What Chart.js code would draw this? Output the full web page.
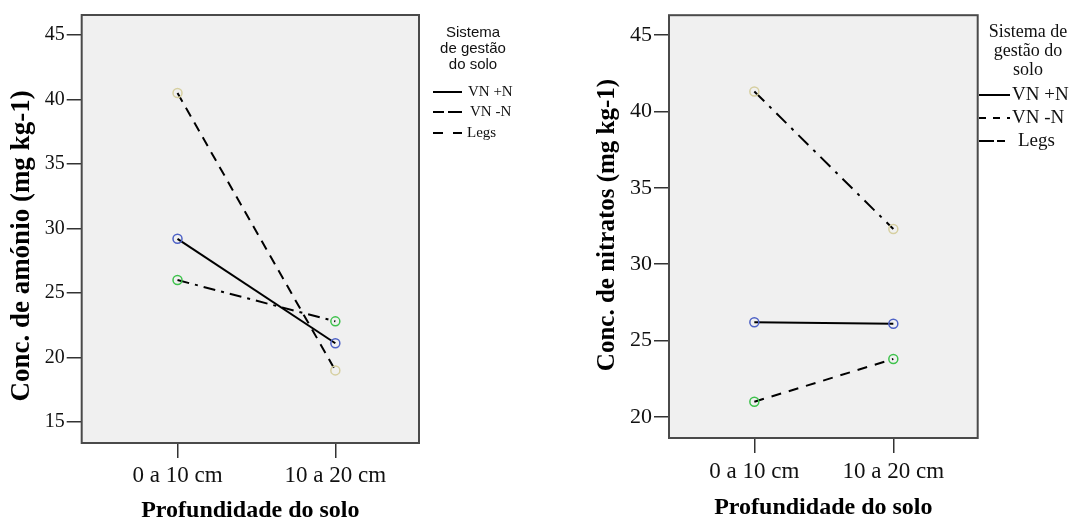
<!DOCTYPE html>
<html><head><meta charset="utf-8">
<script src="https://cdn.jsdelivr.net/npm/chart.js@4"></script>
<style>
html,body{margin:0;padding:0;background:#fff;overflow:hidden;}
#c1{position:absolute;left:0;top:0;}
#c2{position:absolute;left:540px;top:0;}
</style></head><body>
<canvas id="c1" width="540" height="523"></canvas>
<canvas id="c2" width="537" height="523"></canvas>
<script>
// ---- data ----
const categories = ['0 a 10 cm', '10 a 20 cm'];
const seriesNames = ['VN +N', 'VN -N', 'Legs'];
const amonioVNmaisN = [29.2, 21.1];
const amonioVNmenosN = [26.0, 22.8];
const amonioLegs = [40.5, 19.0];
const nitratosVNmaisN = [26.2, 26.1];
const nitratosVNmenosN = [21.0, 23.8];
const nitratosLegs = [41.3, 32.3];
const amonioTicks = [15, 20, 25, 30, 35, 40, 45];
const nitratosTicks = [20, 25, 30, 35, 40, 45];
const xTitle = 'Profundidade do solo';
const amonioTitle = 'Conc. de amónio (mg kg-1)';
const nitratosTitle = 'Conc. de nitratos (mg kg-1)';
const legendTitleLeft = ['Sistema', 'de gestão', 'do solo'];
const legendTitleRight = ['Sistema de', 'gestão do', 'solo'];

const SERIF = "'Liberation Serif', 'Times New Roman', serif";
const SANS = "'Liberation Sans', Arial, sans-serif";
const markerColors = ['#4e62c6', '#3ec24c', '#d6cfa0'];

const boxPlugin = {
  id: 'plotBox',
  beforeDraw(chart) {
    const a = chart.chartArea, ctx = chart.ctx;
    ctx.save();
    ctx.fillStyle = '#f0f0f0';
    ctx.fillRect(a.left, a.top, a.right - a.left, a.bottom - a.top);
    ctx.restore();
  },
  afterDatasetsDraw(chart) {
    const a = chart.chartArea, ctx = chart.ctx;
    ctx.save();
    ctx.strokeStyle = '#4a4a4a';
    ctx.lineWidth = 2;
    ctx.strokeRect(a.left, a.top, a.right - a.left, a.bottom - a.top);
    ctx.restore();
  }
};

const yTitlePlugin = {
  id: 'yTitle',
  afterDraw(chart, args, o) {
    if (!o || !o.text) return;
    const ctx = chart.ctx;
    ctx.save();
    ctx.translate(o.x, o.y);
    ctx.rotate(-Math.PI / 2);
    ctx.fillStyle = '#000';
    ctx.textAlign = 'center';
    ctx.textBaseline = 'middle';
    ctx.font = 'bold ' + o.size + 'px ' + SERIF;
    ctx.fillText(o.text, 0, 0);
    ctx.restore();
  }
};

const legendPlugin = {
  id: 'spssLegend',
  afterDraw(chart, args, o) {
    if (!o || !o.items) return;
    const ctx = chart.ctx;
    ctx.save();
    ctx.fillStyle = '#111';
    ctx.textAlign = 'center';
    ctx.textBaseline = 'middle';
    ctx.font = o.titleFont;
    o.title.forEach((t, i) => ctx.fillText(t, o.titleX, o.titleY + i * o.titleLH));
    o.items.forEach((it, i) => {
      const y = o.itemY[i];
      ctx.strokeStyle = '#000';
      ctx.lineWidth = 2;
      ctx.setLineDash(it.dash);
      ctx.beginPath();
      ctx.moveTo(o.lineX0, y);
      ctx.lineTo(o.lineX1, y);
      ctx.stroke();
      ctx.setLineDash([]);
      ctx.textAlign = 'left';
      ctx.font = o.itemFont;
      ctx.fillText(it.label, it.textX, y);
    });
    ctx.restore();
  }
};

function makeDatasets(valsList, dashes) {
  return valsList.map((vals, s) => ({
    label: seriesNames[s],
    data: vals.map((v, i) => ({x: i, y: v})),
    borderColor: '#000',
    borderWidth: 2,
    borderDash: dashes[s],
    pointRadius: 4.5,
    pointBorderWidth: 1.5,
    pointBorderColor: markerColors[s],
    pointBackgroundColor: 'rgba(0,0,0,0)',
    showLine: true,
    fill: false,
    tension: 0
  }));
}

function makeChart(id, cfg) {
  return new Chart(document.getElementById(id), {
    type: 'line',
    data: {datasets: makeDatasets(cfg.series, cfg.dashes)},
    plugins: [boxPlugin, legendPlugin, yTitlePlugin],
    options: {
      responsive: false,
      animation: false,
      devicePixelRatio: 1,
      layout: {padding: {left: 0, top: cfg.top, right: cfg.right, bottom: 0}},
      plugins: {
        legend: {display: false},
        tooltip: {enabled: false},
        spssLegend: cfg.legend,
        yTitle: cfg.yTitle
      },
      scales: {
        x: {
          type: 'linear',
          position: 'bottom',
          min: cfg.xmin, max: cfg.xmax,
          afterFit(s) { s.height = cfg.xh; },
          afterBuildTicks(s) { s.ticks = categories.map((c, i) => ({value: i})); },
          ticks: {
            callback: (v, i) => categories[i],
            font: {family: SERIF, size: cfg.xTickSize},
            color: '#111',
            padding: cfg.xTickPad,
            maxRotation: 0,
            autoSkip: false
          },
          grid: {drawOnChartArea: false, tickLength: 15, color: '#333', lineWidth: 1.5},
          border: {display: false},
          title: {
            display: true, text: xTitle, color: '#000',
            font: {family: SERIF, size: cfg.xTitleSize, weight: 'bold', lineHeight: 1},
            padding: {top: 0, bottom: cfg.xTitlePad}
          }
        },
        y: {
          type: 'linear',
          min: cfg.ymin, max: cfg.ymax,
          afterFit(s) { s.width = cfg.yw; },
          afterBuildTicks(s) { s.ticks = cfg.yTicks.map(v => ({value: v})); },
          ticks: {
            font: {family: SERIF, size: cfg.yTickSize},
            color: '#111',
            padding: 2
          },
          grid: {drawOnChartArea: false, tickLength: 15, color: '#333', lineWidth: 1.5},
          border: {display: false},
          title: {display: false}
        }
      }
    }
  });
}

makeChart('c1', {
  series: [amonioVNmaisN, amonioVNmenosN, amonioLegs],
  dashes: [[], [12, 6, 3, 6], [10, 7]],
  top: 15, right: 121, xh: 80, yw: 81.7,
  xmin: -0.607, xmax: 1.53, ymin: 13.37, ymax: 46.55,
  yTicks: amonioTicks,
  xTickSize: 23, xTickPad: 4, xTitleSize: 24, xTitlePad: 0,
  yTickSize: 20,
  yTitle: {text: amonioTitle, size: 27, x: 22, y: 246},
  legend: {
    title: legendTitleLeft, titleFont: '15px ' + SANS, titleX: 473, titleY: 33, titleLH: 16,
    lineX0: 433, lineX1: 462, itemY: [92, 112, 133], itemFont: '15px ' + SERIF,
    items: [
      {label: seriesNames[0], dash: [], textX: 468},
      {label: seriesNames[1], dash: [11, 4, 14, 100], textX: 470},
      {label: seriesNames[2], dash: [10, 10], textX: 467}
    ]
  }
});

makeChart('c2', {
  series: [nitratosVNmaisN, nitratosVNmenosN, nitratosLegs],
  dashes: [[], [10, 8], [14, 7, 3, 7]],
  top: 9, right: 99.3, xh: 85, yw: 129,
  xmin: -0.614, xmax: 1.607, ymin: 18.63, ymax: 46.29,
  yTicks: nitratosTicks,
  xTickSize: 23, xTickPad: 5, xTitleSize: 24, xTitlePad: 3,
  yTickSize: 22,
  yTitle: {text: nitratosTitle, size: 25, x: 68, y: 225},
  legend: {
    title: legendTitleRight, titleFont: '18px ' + SERIF, titleX: 488, titleY: 32, titleLH: 19,
    lineX0: 439, lineX1: 470, itemY: [95, 118, 141], itemFont: '19px ' + SERIF,
    items: [
      {label: seriesNames[0], dash: [], textX: 472},
      {label: seriesNames[1], dash: [7, 7], textX: 472},
      {label: seriesNames[2], dash: [15, 3, 8, 50], textX: 478}
    ]
  }
});
</script>
</body></html>
